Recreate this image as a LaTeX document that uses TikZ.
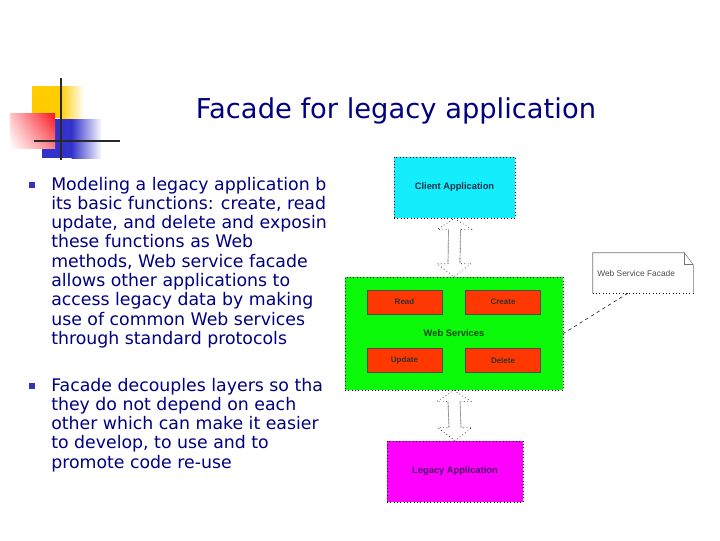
\documentclass[tikz,border=0pt]{standalone}
\usepackage{fontspec}
\setmainfont{DejaVu Sans}
\newfontfamily\arialf{Liberation Sans}
\usetikzlibrary{calc,shadings}
\definecolor{navy}{RGB}{0,0,128}
\definecolor{decoyellow}{RGB}{255,204,0}
\definecolor{decored}{RGB}{250,20,30}
\definecolor{decoblue}{RGB}{51,51,204}
\definecolor{decoline}{RGB}{40,40,40}
\definecolor{bulblue}{RGB}{51,51,190}
\definecolor{cyanbox}{RGB}{20,238,252}
\definecolor{greenbox}{RGB}{10,250,10}
\definecolor{redbox}{RGB}{255,55,0}
\definecolor{magbox}{RGB}{255,0,255}
\definecolor{clienttext}{RGB}{20,45,70}
\definecolor{legacytext}{RGB}{70,10,100}
\definecolor{wstext}{RGB}{10,70,10}
\newcommand\blockarrow[2]{%
  \draw[barrow] (#1.south) -- ++(17,11) -- ++(-11,0) -- ($(#2.north)+(6,-13)$) -- ++(11,0) -- (#2.north) -- ++(-17,-13) -- ++(11,0) -- ($(#1.south)+(-6,11)$) -- ++(-11,0) -- cycle;
  \draw[bshaft] ($(#1.south)+(-6,11)$) -- ($(#2.north)+(-6,-13)$) ($(#1.south)+(6,11)$) -- ($(#2.north)+(6,-13)$);
}
\begin{document}
\begin{tikzpicture}[x=0.75pt,y=-0.75pt,
  bodytext/.style={anchor=base west, inner sep=0pt, text=navy, font=\fontsize{13}{14.5}\selectfont},
  bulletsq/.style={fill=bulblue, minimum size=4.5pt, inner sep=0pt},
  bigbox/.style={draw=black, dotted, line width=0.5pt, inner sep=0pt, font=\arialf\fontsize{7}{8}\selectfont\bfseries},
  opbox/.style={draw=black!70, line width=0.4pt, fill=redbox, inner sep=0pt, minimum width=56.25pt, minimum height=18pt, text=black!80, font=\arialf\fontsize{6}{7}\selectfont\bfseries},
  barrow/.style={draw=black, dotted, line width=0.5pt, fill=white},
  bshaft/.style={draw=gray!80, line width=0.5pt},
  decostroke/.style={draw=decoline, line width=2pt}]
\useasboundingbox (0,0) rectangle (720,540);
% decoration
\fill[decoyellow] (32,86) rectangle (60,118);
\shade[left color=decoyellow, right color=white] (59.5,86) rectangle (84,118);
\fill[decoblue] (42,119) rectangle (72,158);
\shade[left color=decoblue, right color=white] (71.5,119) rectangle (102,158);
\shade[upper right=decored, upper left=decored!25!white, lower right=decored!55!white, lower left=white] (10,113) rectangle (55,148);
\draw[decostroke] (61,78) -- (61,160);
\draw[decostroke] (34,141) -- (120,141);
% title
\node[anchor=base, inner sep=0pt, text=navy, font=\fontsize{20.5}{24}\selectfont] (title) at (396,118) {Facade for legacy application};
% bullets
\node[bulletsq] (bul1) at (32,185) {};
\node[bulletsq] (bul2) at (32,386) {};
\foreach \t [count=\i from 0] in {Modeling a legacy application b, {its basic functions: create, read}, {update, and delete and exposin}, these functions as Web, {methods, Web service facade}, allows other applications to, access legacy data by making, use of common Web services, through standard protocols}
  \node[bodytext] (a\i) at (51,{190+19.3*\i}) {\t};
\foreach \t [count=\i from 0] in {Facade decouples layers so tha, they do not depend on each, other which can make it easier, {to develop, to use and to}, promote code re-use}
  \node[bodytext] (b\i) at (51,{391+19.3*\i}) {\t};
% diagram
\node[bigbox, fill=cyanbox, minimum width=90.75pt, minimum height=45.75pt, text=clienttext] (client) at (454.5,187.5) {Client Application};
\node[bigbox, fill=greenbox, minimum width=163.5pt, minimum height=84.75pt, text=wstext] (ws) at (454,333.5) {Web Services};
\node[opbox] (read) at (404.5,302) {Read};
\node[opbox] (create) at (503,302) {Create};
\node[opbox] (update) at (404.5,360.5) {Update};
\node[opbox] (delete) at (503,360.5) {Delete};
\node[bigbox, fill=magbox, minimum width=102pt, minimum height=45.75pt, text=legacytext] (legacy) at (455,471.5) {Legacy Application};
\blockarrow{client}{ws}
\blockarrow{ws}{legacy}
% note
\node[inner sep=0pt, minimum width=75pt, minimum height=30pt] (notebox) at (643,273) {};
\draw[draw=black!55, line width=0.4pt] (notebox.south west) -- (notebox.north west) -- ($(notebox.north east)+(-9,0)$) -- ($(notebox.north east)+(0,12)$) -- (notebox.south east);
\draw[draw=black!55, line width=0.4pt] ($(notebox.north east)+(-9,0)$) -- ($(notebox.north east)+(-9,12)$) -- ($(notebox.north east)+(0,12)$);
\draw[draw=black, dotted, line width=0.5pt] (notebox.south west) -- (notebox.south east);
\node[anchor=west, inner sep=0pt, text=black!70, font=\arialf\fontsize{6.3}{7}\selectfont] (notetext) at (597,273) {Web Service Facade};
\draw[draw=black, line width=0.4pt, dash pattern=on 2.5pt off 2.5pt] ($(notebox.south west)+(35,0)$) -- (ws.east);
\end{tikzpicture}
\end{document}
